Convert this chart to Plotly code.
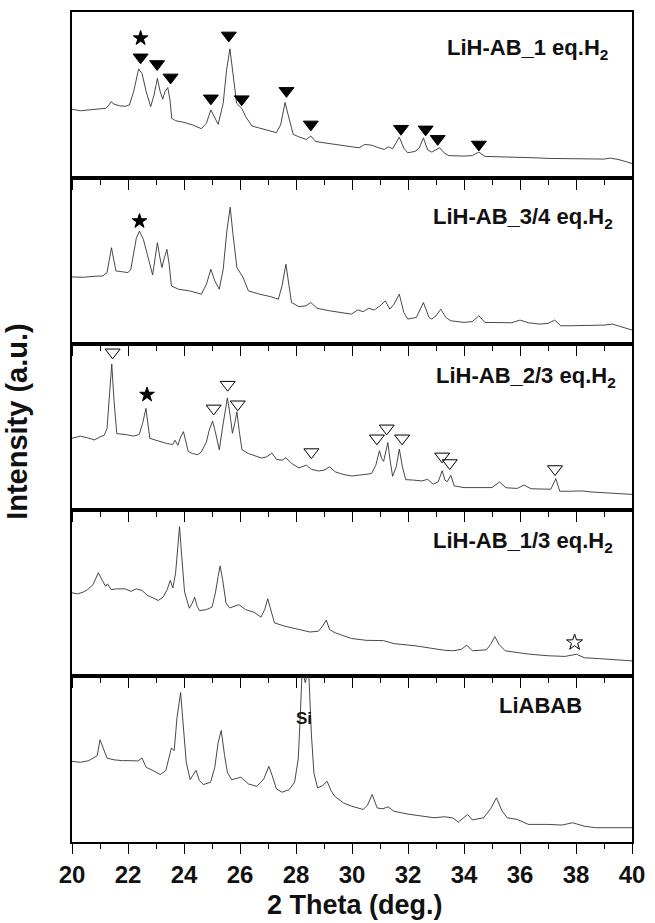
import plotly.graph_objects as go
from plotly.subplots import make_subplots

# ---- data (2 theta in deg, intensity in a.u. per panel, 0-100) ----
p1_x = [20.0,20.3,20.6,20.9,21.2,21.3,21.4,21.5,21.7,21.9,22.05,22.2,22.38,22.5,22.65,22.81,22.93,23.05,23.15,23.24,23.32,23.42,23.5,23.56,23.7,24.0,24.3,24.62,24.8,24.96,25.1,25.22,25.4,25.52,25.64,25.75,25.88,26.07,26.2,26.43,26.8,27.1,27.3,27.45,27.61,27.72,27.9,28.1,28.37,28.53,28.7,29.0,29.5,30.0,30.25,30.45,30.7,30.9,31.15,31.3,31.45,31.69,31.85,31.99,32.25,32.4,32.55,32.7,32.85,33.13,33.3,33.46,34.0,34.3,34.53,34.75,35.2,35.6,36.0,36.5,37.0,37.5,38.0,38.5,39.0,39.22,39.5,39.8,40.0]
p1_y = [41.4,40.5,41.0,41.5,42.0,43.5,46,44.5,43.5,43.2,44,52,65.7,63,52,43,50,60,52,47.5,52,54.5,47,36,34.5,33.5,32,29.7,33,41,36,32.3,45,65,77.8,62,45,41.8,37,31.3,29.5,28.3,27.3,32,45.5,38,26.3,24.8,23.2,25.3,22,21.2,20,19,18.2,20.2,19.8,18.5,17.2,18.8,17.6,24.6,18,15.2,16,18,24.2,17,15.6,18.2,15,13.5,13.2,13.5,15.6,13,12.8,12.6,12.7,12.2,11.8,11.6,11.4,11.3,11.4,12,11.2,9.8,8.7]

p2_x = [20.0,20.4,20.8,21.1,21.25,21.33,21.41,21.5,21.57,21.8,22.0,22.1,22.2,22.3,22.41,22.55,22.75,22.88,22.97,23.05,23.13,23.21,23.3,23.39,23.47,23.55,23.8,24.2,24.62,24.8,24.96,25.1,25.26,25.4,25.53,25.65,25.75,25.89,26.1,26.3,26.7,27.1,27.37,27.5,27.64,27.74,27.84,28.1,28.35,28.53,28.75,29.2,29.6,29.98,30.2,30.4,30.6,30.8,31.0,31.19,31.35,31.5,31.69,31.85,31.99,32.3,32.55,32.75,32.85,33.0,33.17,33.35,33.53,34.0,34.3,34.53,34.75,35.2,35.7,36.0,36.3,36.7,37.0,37.24,37.45,37.8,38.2,38.6,39.0,39.3,39.6,40.0]
p2_y = [40.4,40.2,40.8,41,43,50,58,50,44,43.5,43,45,55,64,68,63,50,41.6,52,61,53,46,52,57,48,35,33,32,30,36,45,38,33,45,68,82.4,66,46,40.4,32,30,28.5,27,35,48,36,25,22.5,23,25,21.5,20,19,18,20.5,19.5,21.5,20.5,23,26,21,24,30,19,15,16,25,16,15,17,21,16,14,13,13.5,17,13,13,12.8,14.4,12.8,12,12.4,14.4,11,11,11,11,11.4,12,10.5,8.4]

p3_x = [20.0,20.3,20.55,20.8,21.0,21.15,21.25,21.33,21.42,21.5,21.6,21.9,22.2,22.4,22.52,22.64,22.73,22.78,23.0,23.2,23.4,23.6,23.68,23.78,23.88,23.98,24.07,24.15,24.3,24.49,24.62,24.8,24.9,25.02,25.12,25.26,25.38,25.47,25.55,25.64,25.73,25.81,25.89,25.97,26.07,26.3,26.5,26.77,26.95,27.14,27.3,27.5,27.64,27.85,28.1,28.2,28.37,28.55,28.8,29.0,29.2,29.4,29.71,30.0,30.25,30.5,30.7,30.85,30.98,31.06,31.13,31.2,31.28,31.36,31.45,31.58,31.69,31.8,31.92,32.2,32.5,32.7,32.9,33.08,33.22,33.32,33.4,33.53,33.65,34.0,34.5,35.0,35.27,35.5,35.9,36.14,36.4,36.8,37.1,37.28,37.42,37.8,38.2,38.6,39.0,39.5,40.0]
p3_y = [43.2,44.5,43.5,42.2,44,45,49,65,88,66,46,45.5,44.5,45.5,52,61.2,50,43.2,42,41,40,39.5,42,39,44,47.2,40,35.3,34,33.3,35,41,48,53.6,47,36.3,50,61,67.5,58,46.2,52,59.2,48,36.3,34,33,31.3,32,34.3,30.5,30,31.5,28,25.3,26,27,24.5,23.5,24,26,23,21.3,20.5,20.8,21.5,22,27,35.7,31,29.3,34,40.6,30,20.3,26,36.7,26,18.3,18,17.5,18.5,15.5,17,23.7,18,17,20.9,14.5,13.5,13.3,13.5,16.9,13.4,13,15,12.8,12.4,12.5,18.9,11.3,11.3,11.5,10.8,10.3,10,9.4]

p4_x = [20.0,20.2,20.4,20.55,20.75,20.94,21.1,21.2,21.27,21.4,21.6,21.9,22.1,22.3,22.5,22.7,22.9,23.08,23.25,23.4,23.51,23.6,23.7,23.78,23.84,23.92,24.02,24.19,24.3,24.38,24.47,24.55,24.8,25.0,25.12,25.22,25.29,25.38,25.5,25.63,25.8,25.96,26.2,26.5,26.75,26.88,26.99,27.1,27.23,27.6,28.1,28.5,28.8,28.95,29.08,29.2,29.4,29.98,30.5,31.12,31.5,32.26,32.8,33.3,33.6,33.9,34.1,34.3,34.8,34.95,35.1,35.25,35.47,35.8,36.3,37.0,37.6,38.02,38.3,38.8,39.3,40.0]
p4_y = [50.1,49.5,50.5,52,55,62.2,57,54,55.5,52,52.5,52.5,51,52.5,51.5,48.5,47,45.5,47.5,52,57.6,53,62,80,90,72,50.5,40.8,44,47.5,42,39.4,40,41.5,50,60,66.3,58,44,41,42,43,40,38.4,35.5,40,46.5,40,32,30,28.3,26.5,27,30,33.7,28,26,22.6,21.5,21.3,19.5,18.2,16.8,15.5,15.2,16,18.6,15.2,15.8,19,23.8,19,15.2,14.5,13.2,12.2,11.8,13.1,11,10.5,10,9.1]

p5_x = [20.0,20.3,20.6,20.9,21.0,21.1,21.25,21.5,21.8,22.1,22.35,22.5,22.65,22.9,23.15,23.35,23.5,23.55,23.65,23.75,23.88,23.98,24.08,24.22,24.33,24.43,24.55,24.69,24.95,25.1,25.22,25.33,25.45,25.55,25.7,26.03,26.3,26.6,26.85,27.03,27.15,27.3,27.5,27.75,27.95,28.08,28.15,28.22,28.33,28.45,28.55,28.64,28.77,28.95,29.11,29.25,29.38,29.7,29.98,30.4,30.55,30.72,30.9,31.1,31.29,31.5,32.0,32.5,32.93,33.3,33.6,33.8,33.95,34.13,34.3,34.7,34.95,35.16,35.35,35.54,35.9,36.3,37.0,37.5,37.88,38.3,38.7,39.3,40.0]
p5_y = [48.6,48,49,52,61.6,57,50.5,49.5,49,49,48.8,50.6,45,43,40.6,43,52,56.6,55,75,90,70,48,37.6,41,43.2,37,34.6,36,45,60,67.2,52,42,37.5,39,35,33.5,38,45.6,40,32,30,31.5,36,50,75,104,96,104,65,41.6,32.6,34,36.6,31,27.6,23.5,21.6,19.6,22,28.6,20.5,20,21.2,18.5,16.8,15.6,14.6,15.2,14.5,12,14,16.6,13.3,14.6,20,26.6,19,14.6,13.6,10.6,10.6,10.2,11.6,9.5,8.6,8.8,8.6]

# peak markers
m1_tri_x = [22.45,23.04,23.52,24.96,25.6,26.06,27.66,28.53,31.75,32.63,33.06,34.53]
m1_tri_y = [72.7,68.7,60.6,48,85.9,47.5,52.5,32.3,29.7,29.3,23.6,20.2]
m1_star_x = [22.45]; m1_star_y = [84.2]
m2_star_x = [22.41]; m2_star_y = [74]
m3_tri_x = [21.45,25.06,25.56,25.92,28.55,30.89,31.24,31.79,33.22,33.49,37.25]
m3_tri_y = [95,61.2,75.5,63.7,34.9,43.2,49.2,43.2,32.3,28.3,24.7]
m3_star_x = [22.68]; m3_star_y = [69.5]
m4_ostar_x = [37.95]; m4_ostar_y = [20.2]

labels = ["LiH-AB_1 eq.H<sub>2</sub>", "LiH-AB_3/4 eq.H<sub>2</sub>",
          "LiH-AB_2/3 eq.H<sub>2</sub>", "LiH-AB_1/3 eq.H<sub>2</sub>", "LiABAB"]
label_x = [39.2, 39.4, 39.5, 39.4, 38.3]
label_y = [77.8, 76, 80, 80.8, 82.5]

FONT = "Liberation Sans, Arial, sans-serif"
fig = make_subplots(rows=5, cols=1, shared_xaxes=True, vertical_spacing=0)

series = [(p1_x, p1_y), (p2_x, p2_y), (p3_x, p3_y), (p4_x, p4_y), (p5_x, p5_y)]
for i, (xs, ys) in enumerate(series, start=1):
    fig.add_trace(go.Scatter(x=xs, y=ys, mode="lines",
                             line=dict(color="#333333", width=0.9), showlegend=False), row=i, col=1)

def mk(xs, ys, sym, size, row):
    fig.add_trace(go.Scatter(x=xs, y=ys, mode="markers", cliponaxis=False,
                             marker=dict(symbol=sym, size=size, color="black",
                                         line=dict(color="black", width=1)),
                             showlegend=False), row=row, col=1)

mk(m1_tri_x, m1_tri_y, "triangle-down", 13, 1)
mk(m1_star_x, m1_star_y, "star", 11, 1)
mk(m2_star_x, m2_star_y, "star", 11, 2)
mk(m3_tri_x, m3_tri_y, "triangle-down-open", 13, 3)
mk(m3_star_x, m3_star_y, "star", 11, 3)
mk(m4_ostar_x, m4_ostar_y, "star-open", 12, 4)

for i in range(1, 6):
    fig.update_xaxes(row=i, col=1, range=[20, 40], dtick=2, tick0=20,
                     ticks="outside", ticklen=10, tickwidth=1.3, tickcolor="black",
                     minor=dict(dtick=1, ticks="outside", ticklen=5, tickwidth=1.3, tickcolor="black"),
                     showline=True, linecolor="black", linewidth=1.5, mirror=True,
                     showgrid=False, zeroline=False,
                     showticklabels=(i == 5),
                     tickfont=dict(family=FONT, size=24, color="#111111", weight="bold"))
    fig.update_yaxes(row=i, col=1, range=[0, 100], showticklabels=False, ticks="",
                     showline=True, linecolor="black", linewidth=1.5, mirror=True,
                     showgrid=False, zeroline=False)
    ax = "x" if i == 1 else f"x{i}"
    ay = "y" if i == 1 else f"y{i}"
    fig.add_annotation(x=label_x[i-1], y=label_y[i-1], xref=ax, yref=ay,
                       text="<b>" + labels[i-1] + "</b>", showarrow=False,
                       xanchor="right", yanchor="middle",
                       font=dict(family=FONT, size=22, color="#111111"))

fig.add_annotation(x=28.3, y=74.6, xref="x5", yref="y5", text="<b>Si</b>",
                   showarrow=False, font=dict(family=FONT, size=17, color="#111111"))
fig.add_annotation(x=-0.097, y=0.507, xref="paper", yref="paper", text="<b>Intensity (a.u.)</b>",
                   textangle=-90, showarrow=False, xanchor="center", yanchor="middle",
                   font=dict(family=FONT, size=29, color="#111111"))
fig.add_annotation(x=0.505, y=-0.0765, xref="paper", yref="paper", text="<b>2 Theta (deg.)</b>",
                   showarrow=False, xanchor="center", yanchor="middle",
                   font=dict(family=FONT, size=27, color="#111111"))

fig.update_layout(width=655, height=923, margin=dict(l=72, r=14, t=10, b=81),
                  plot_bgcolor="white", paper_bgcolor="white")
fig.write_html("out.html", config={"displayModeBar": False},
               post_script="document.body.style.margin='0';document.body.style.overflow='hidden';")
